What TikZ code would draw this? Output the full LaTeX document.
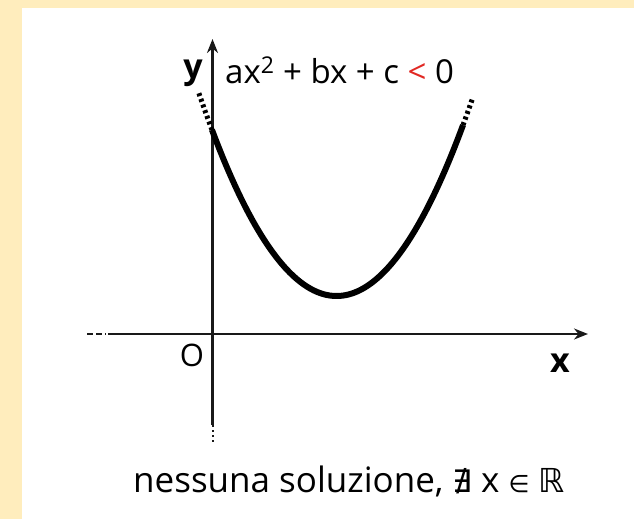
\documentclass[tikz,border=0pt]{standalone}
\usepackage{fontspec}
\setmainfont{Open Sans}
\newfontfamily\symfont{DejaVu Sans}
\usetikzlibrary{arrows.meta}
\definecolor{cream}{RGB}{255,237,189}
\definecolor{ltred}{RGB}{225,40,35}
\tikzset{
  axis/.style={line width=2.2pt, draw=black!90},
  curve/.style={line width=6pt, line cap=butt},
  dotcurve/.style={line width=5pt, dash pattern=on 3pt off 3pt},
  lbl/.style={inner sep=0pt, anchor=base, font=\fontsize{33}{38}\selectfont},
  blbl/.style={inner sep=0pt, anchor=base, font=\fontsize{34}{38}\selectfont\bfseries},
}
\begin{document}
\begin{tikzpicture}[x=1pt,y=-1pt]
\useasboundingbox (0,0) rectangle (634,519);
\fill[white] (0,0) rectangle (634,519);
\fill[cream] (0,0) rectangle (634,8);
\fill[cream] (0,0) rectangle (22,519);
% axes
\coordinate (xd) at (87,334);
\coordinate (xe) at (106,334);
\coordinate (xs) at (108,334);
\coordinate (xt) at (588,334);
\coordinate (yd) at (212.5,443);
\coordinate (yb) at (212.5,425);
\coordinate (yt) at (212.5,39);
\draw[axis, dash pattern=on 6pt off 3pt] (xd) -- (xe);
\draw[axis, -{Stealth[length=14pt,width=11pt]}] (xs) -- (xt);
\draw[axis, line width=2pt, dash pattern=on 2pt off 3pt] (yb) -- (yd);
\draw[axis, -{Stealth[length=14pt,width=11pt]}] (yb) -- (yt);
% parabola
\draw[curve] plot[domain=212:463, samples=80, smooth] (\x, {296-0.01069*(\x-336.6)*(\x-336.6)});
\draw[dotcurve] plot[domain=212:198, samples=10, smooth] (\x, {296-0.01069*(\x-336.6)*(\x-336.6)});
\draw[dotcurve] plot[domain=463:473, samples=10, smooth] (\x, {296-0.01069*(\x-336.6)*(\x-336.6)});
% labels
\node[blbl] (ylab) at (193,78) {y};
\node[lbl, anchor=base west] (form) at (225,83) {ax\textsuperscript{2} + bx + c \textcolor{ltred}{<} 0};
\node[lbl, font=\fontsize{31}{36}\selectfont] (olab) at (192,366) {O};
\node[blbl] (xlab) at (560,372) {x};
\node[lbl, font=\fontsize{35}{40}\selectfont] (cap) at (349,492) {nessuna soluzione, {\symfont\fontsize{31}{36}\selectfont ∄} x {\symfont\fontsize{24}{36}\selectfont ∈} {\symfont\fontsize{33}{36}\selectfont ℝ}};
\end{tikzpicture}
\end{document}
